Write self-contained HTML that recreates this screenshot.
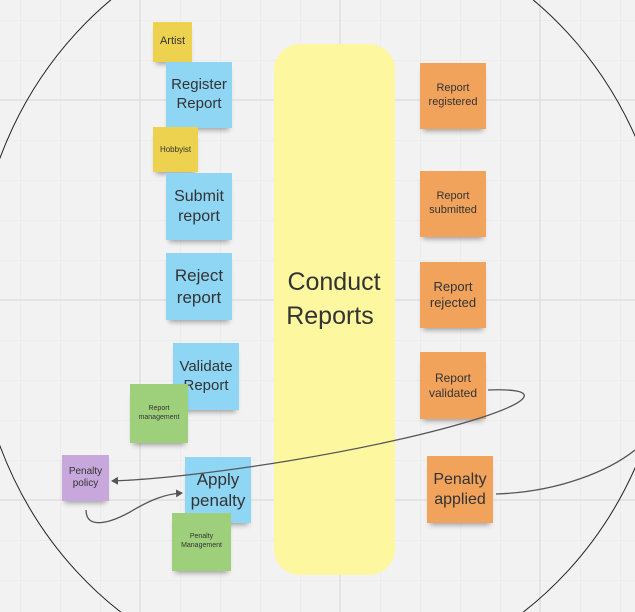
<!DOCTYPE html>
<html style="margin:0;width:635px;height:612px;overflow:hidden"><head><style>
body{margin:0;width:635px;height:612px;overflow:hidden;background:#f2f2f2;font-family:"Liberation Sans",sans-serif;position:relative;}
.n{position:absolute;display:flex;align-items:center;justify-content:center;text-align:center;color:#333;box-shadow:0 5px 5px -3px rgba(0,0,0,0.35);line-height:1.25;}
.b{background:#8fd6f5;font-size:15px;}
.o{background:#f1a35c;font-size:11px;}
.y{background:#ecd24e;}
.g{background:#9ed07c;font-size:7px;}
svg{display:block}
</style></head><body>
<svg width="635" height="612" style="position:absolute;left:0;top:0">
<defs>
<pattern id="gr" x="20" y="20" width="40" height="40" patternUnits="userSpaceOnUse">
<path d="M0 0H40M0 0V40" stroke="#e6e6e6" stroke-width="1" fill="none"/></pattern>
<marker id="ar" markerWidth="8" markerHeight="8" refX="6" refY="4" orient="auto" markerUnits="userSpaceOnUse"><path d="M0,0 L7,4 L0,8 Z" fill="#555"/></marker>
</defs>
<rect width="635" height="612" fill="url(#gr)"/>
<g stroke="#e0e0e0" stroke-width="1.5"><line x1="140" y1="0" x2="140" y2="612"/><line x1="340" y1="0" x2="340" y2="612"/><line x1="540" y1="0" x2="540" y2="612"/><line x1="0" y1="100" x2="635" y2="100"/><line x1="0" y1="300" x2="635" y2="300"/><line x1="0" y1="500" x2="635" y2="500"/></g>
<ellipse cx="322" cy="302" rx="348" ry="380" fill="none" stroke="#222" stroke-width="1"/>
<rect x="274" y="44" width="121" height="531" rx="26" fill="#fdf7a0"/>
<text x="334" y="290" font-size="25" fill="#333" text-anchor="middle" font-family="Liberation Sans,sans-serif">Conduct</text>
<text x="330" y="324" font-size="25" fill="#333" text-anchor="middle" font-family="Liberation Sans,sans-serif">Reports</text>
</svg>
<div class="n y" style="left:153px;top:22px;width:39px;height:40px;font-size:11px">Artist</div>
<div class="n b" style="left:166px;top:62px;width:66px;height:66px">Register<br>Report</div>
<div class="n y" style="left:153px;top:127px;width:45px;height:45px;font-size:8px">Hobbyist</div>
<div class="n b" style="left:166px;top:173px;width:66px;height:67px;font-size:16px">Submit<br>report</div>
<div class="n b" style="left:166px;top:253px;width:66px;height:67px;font-size:17px">Reject<br>report</div>
<div class="n b" style="left:173px;top:343px;width:66px;height:67px">Validate<br>Report</div>
<div class="n g" style="left:130px;top:384px;width:58px;height:59px">Report<br>management</div>
<div class="n" style="left:62px;top:455px;width:47px;height:46px;background:#c8a8dc;font-size:10px">Penalty<br>policy</div>
<div class="n b" style="left:185px;top:457px;width:66px;height:66px;font-size:17px">Apply<br>penalty</div>
<div class="n g" style="left:172px;top:513px;width:59px;height:58px">Penalty<br>Management</div>
<div class="n o" style="left:420px;top:63px;width:66px;height:66px">Report<br>registered</div>
<div class="n o" style="left:420px;top:171px;width:66px;height:66px">Report<br>submitted</div>
<div class="n o" style="left:420px;top:262px;width:66px;height:66px;font-size:13px">Report<br>rejected</div>
<div class="n o" style="left:420px;top:352px;width:66px;height:67px;font-size:12px">Report<br>validated</div>
<div class="n o" style="left:427px;top:456px;width:66px;height:67px;font-size:16px">Penalty<br>applied</div>
<svg width="635" height="612" style="position:absolute;left:0;top:0">
<path d="M488,390 C540,388 535,400 480,418 C380,450 200,478 112,481" fill="none" stroke="#555" stroke-width="1.3" marker-end="url(#ar)"/>
<path d="M86,510 C86,530 110,523 130,512 C150,500 165,494 182,493" fill="none" stroke="#555" stroke-width="1.3" marker-end="url(#ar)"/>
<path d="M496,494 C560,492 610,470 635,450" fill="none" stroke="#555" stroke-width="1.3"/>
</svg>
</body></html>
